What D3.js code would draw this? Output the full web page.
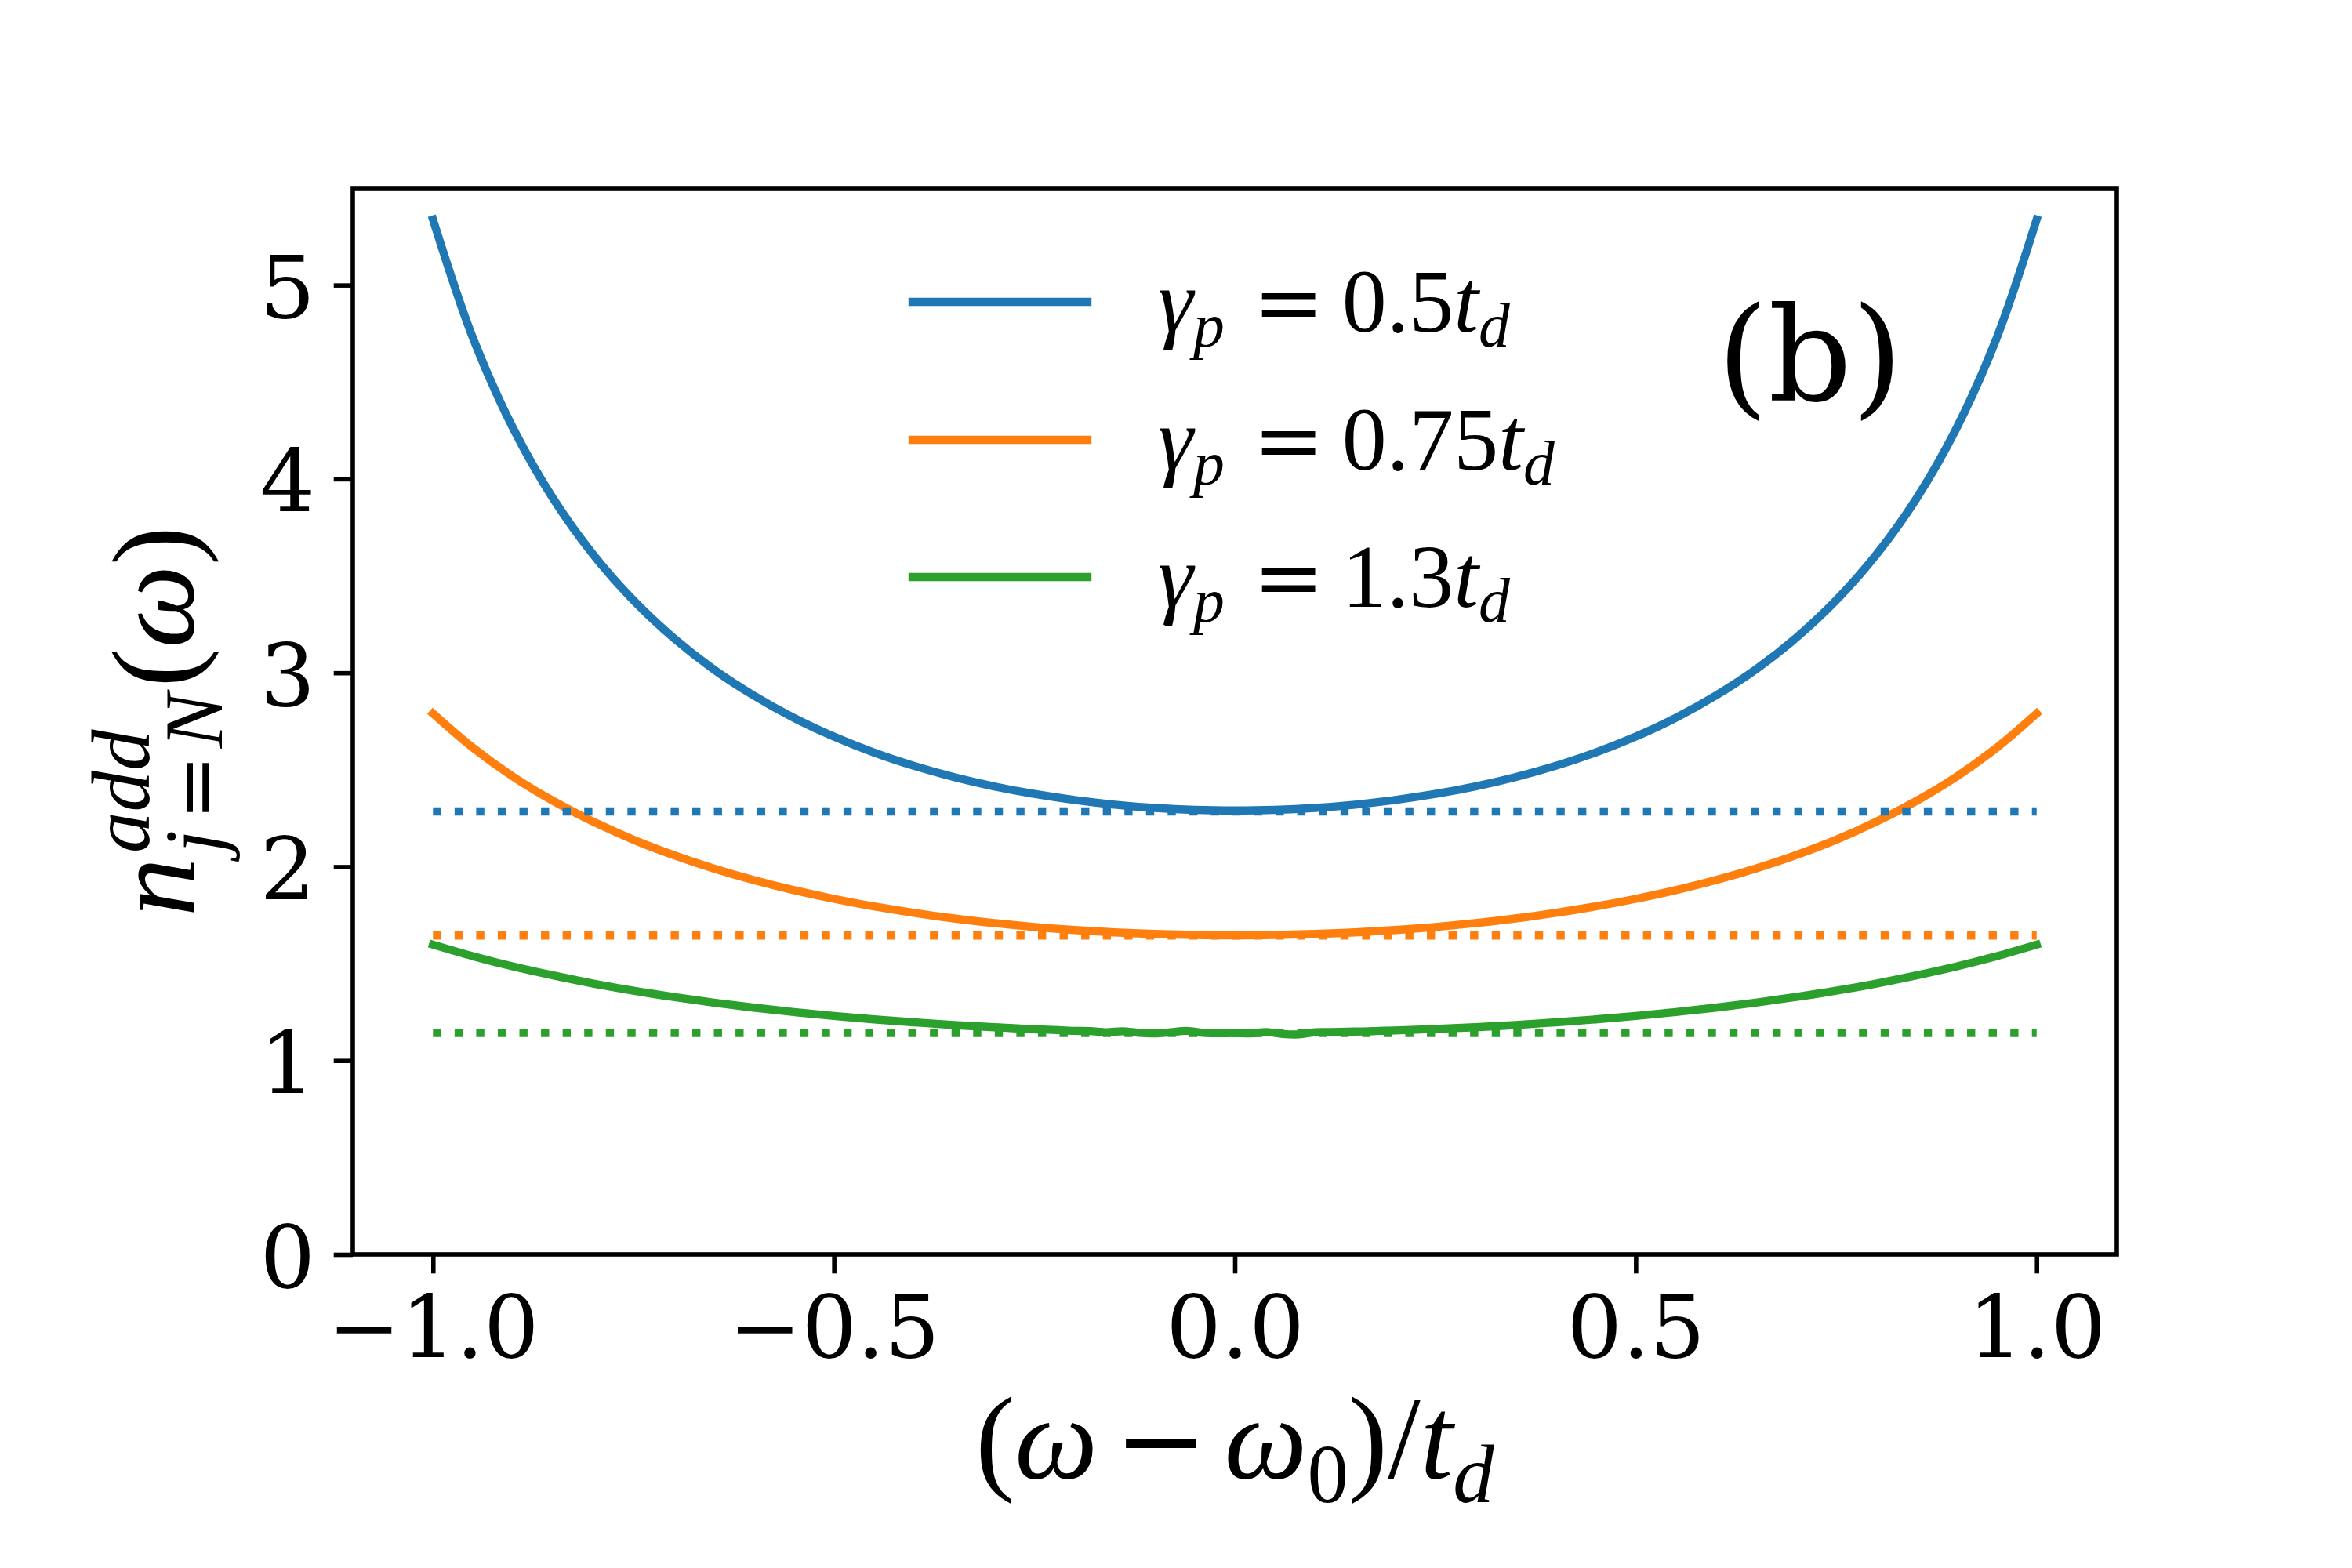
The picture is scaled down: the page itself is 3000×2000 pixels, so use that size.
<!DOCTYPE html>
<html>
<head>
<meta charset="utf-8">
<script src="https://cdn.jsdelivr.net/npm/d3@7"></script>
<style>
  html, body { margin: 0; padding: 0; background: #fff; }
  svg { display: block; }
</style>
</head>
<body>
<svg id="chart" width="3000" height="2000"></svg>
<script>
// ---------------- DATA ----------------
const xTicks = [-1, -0.5, 0, 0.5, 1];
const xTickLabels = ["\u22121.0", "\u22120.5", "0.0", "0.5", "1.0"];
const yTicks = [0, 1, 2, 3, 4, 5];
const yTickLabels = ["0", "1", "2", "3", "4", "5"];

const omega = [-1, -0.95, -0.9, -0.85, -0.8, -0.75, -0.7, -0.65, -0.6, -0.55, -0.5,
  -0.45, -0.4, -0.35, -0.3, -0.25, -0.2, -0.15, -0.1, -0.05, 0,
  0.05, 0.1, 0.15, 0.2, 0.25, 0.3, 0.35, 0.4, 0.45, 0.5,
  0.55, 0.6, 0.65, 0.7, 0.75, 0.8, 0.85, 0.9, 0.95, 1];

const nBlue = [5.338, 4.725, 4.261, 3.898, 3.609, 3.374, 3.180, 3.018, 2.883, 2.768, 2.671,
  2.589, 2.520, 2.462, 2.414, 2.375, 2.344, 2.320, 2.303, 2.293, 2.290,
  2.293, 2.303, 2.320, 2.344, 2.375, 2.414, 2.462, 2.520, 2.589, 2.671,
  2.768, 2.883, 3.018, 3.180, 3.374, 3.609, 3.898, 4.261, 4.725, 5.338];

const nOrange = [2.790, 2.613, 2.464, 2.339, 2.232, 2.139, 2.060, 1.991, 1.931, 1.879, 1.834,
  1.795, 1.762, 1.733, 1.709, 1.689, 1.673, 1.661, 1.653, 1.648, 1.646,
  1.648, 1.653, 1.661, 1.673, 1.689, 1.709, 1.733, 1.762, 1.795, 1.834,
  1.879, 1.931, 1.991, 2.060, 2.139, 2.232, 2.339, 2.464, 2.613, 2.790];

const omegaGreen = [-1, -0.95, -0.9, -0.85, -0.8, -0.75, -0.7, -0.65, -0.6, -0.55, -0.5, -0.45, -0.4, -0.35,
  -0.30, -0.28, -0.26, -0.24, -0.22, -0.20, -0.18, -0.16, -0.14, -0.12, -0.10, -0.08, -0.06,
  -0.04, -0.02, 0.00, 0.02, 0.04, 0.06, 0.08, 0.10, 0.12, 0.14, 0.16, 0.18, 0.20,
  0.25, 0.3, 0.35, 0.4, 0.45, 0.5, 0.55, 0.6, 0.65, 0.7, 0.75, 0.8, 0.85, 0.9, 0.95, 1];

const nGreen = [1.598, 1.538, 1.485, 1.439, 1.397, 1.360, 1.328, 1.299, 1.273, 1.250, 1.230, 1.212, 1.197, 1.183,
  1.172, 1.168, 1.163, 1.160, 1.157, 1.153, 1.152, 1.146, 1.151, 1.143, 1.140, 1.146, 1.153,
  1.143, 1.141, 1.142, 1.140, 1.147, 1.137, 1.135, 1.146, 1.147, 1.149, 1.150, 1.153, 1.155,
  1.163, 1.172, 1.183, 1.197, 1.212, 1.230, 1.250, 1.273, 1.299, 1.328, 1.360, 1.397, 1.439, 1.485, 1.538, 1.598];

const refOmega = [-1, 1];
const refLevels = [2.285, 1.645, 1.142];

const gammaValues = ["0.5", "0.75", "1.3"];
const colors = ["#1f77b4", "#ff7f0e", "#2ca02c"];
const panelLabel = "(b)";

// ---------------- LAYOUT ----------------
const W = 3000, H = 2000;
const L = 450, R = 2700, T = 240, B = 1600;
const TICK_FONT = "'DejaVu Serif', serif";
const MATH_FONT = "'Liberation Serif', 'Times New Roman', serif";
const OP_FONT = "'DejaVu Serif', serif";
const tickSize = 111;
const lw = 10.4;

const svg = d3.select("#chart");
svg.append("rect").attr("width", W).attr("height", H).attr("fill", "#fff");

const x = d3.scaleLinear().domain([-1.1, 1.1]).range([L, R]);
const y = d3.scaleLinear().domain([0, 5.5]).range([B, T]);

const series = [
  { xs: omega, ys: nBlue },
  { xs: omega, ys: nOrange },
  { xs: omegaGreen, ys: nGreen }
];

const plot = svg.append("g");
const line = d3.line().x(d => x(d[0])).y(d => y(d[1])).curve(d3.curveCatmullRom.alpha(0.5));

series.forEach((s, i) => {
  plot.append("path")
    .datum(s.xs.map((v, k) => [v, s.ys[k]]))
    .attr("d", line)
    .attr("fill", "none")
    .attr("stroke", colors[i])
    .attr("stroke-width", lw)
    .attr("stroke-linecap", "square")
    .attr("stroke-linejoin", "round");
});

refLevels.forEach((lvl, i) => {
  plot.append("path")
    .datum(refOmega.map(v => [v, lvl]))
    .attr("d", d3.line().x(d => x(d[0])).y(d => y(d[1])))
    .attr("fill", "none")
    .attr("stroke", colors[i])
    .attr("stroke-width", lw)
    .attr("stroke-linecap", "butt")
    .attr("stroke-dasharray", `${lw},${lw * 1.65}`);
});

// ---------------- AXES ----------------
const spineW = 5.6, tickLen = 24.3;
const xAxis = d3.axisBottom(x).tickValues(xTicks).tickSize(tickLen).tickSizeOuter(0)
  .tickPadding(24).tickFormat((d, i) => xTickLabels[i]);
const yAxis = d3.axisLeft(y).tickValues(yTicks).tickSize(tickLen).tickSizeOuter(0)
  .tickPadding(24).tickFormat((d, i) => yTickLabels[i]);

const gx = svg.append("g").attr("transform", `translate(0,${B})`).call(xAxis);
const gy = svg.append("g").attr("transform", `translate(${L},0)`).call(yAxis);
[gx, gy].forEach(g => {
  g.select(".domain").remove();
  g.selectAll(".tick line").attr("stroke", "#000").attr("stroke-width", spineW);
  g.selectAll(".tick text").attr("font-family", TICK_FONT).attr("font-size", tickSize).attr("fill", "#000");
});
gx.selectAll(".tick text").attr("dy", null).attr("y", 131);
gy.selectAll(".tick text").attr("dy", null).attr("y", 41).attr("x", -48);

svg.append("rect").attr("x", L).attr("y", T).attr("width", R - L).attr("height", B - T)
  .attr("fill", "none").attr("stroke", "#000").attr("stroke-width", spineW)
  .attr("stroke-linejoin", "miter");

// ---------------- MATH TEXT HELPER ----------------
function mathText(parent, parts, o) {
  const fs = o.size;
  const g = parent.append("g").attr("font-family", MATH_FONT).attr("fill", "#000");
  const inner = g.append("g");
  function put(p, xx) {
    const s = (p.sub || p.sup) ? 0.7 : 1;
    const dy = p.sub ? o.subDy : p.sup ? -o.supDy : 0;
    const t = inner.append("text")
      .attr("x", xx + (p.l || 0) * fs * s)
      .attr("y", dy * fs)
      .attr("font-size", fs * s * (p.scale || 1))
      .attr("font-style", p.it ? "italic" : "normal")
      .text(p.t);
    if (p.font) t.attr("font-family", p.font);
    return ((p.l || 0) + (p.r || 0)) * fs * s + t.node().getComputedTextLength();
  }
  function putSeq(seq, xx) {
    let w = 0;
    seq.forEach(p => { w += put(p, xx + w); });
    return w;
  }
  let cx = 0;
  parts.forEach(p => {
    if (p.stack) {
      let w = 0;
      p.stack.forEach(seq => { w = Math.max(w, putSeq(seq, cx)); });
      cx += w;
    } else cx += put(p, cx);
  });
  const off = o.anchor === "middle" ? -cx / 2 : o.anchor === "end" ? -cx : 0;
  inner.attr("transform", `translate(${off},0)`);
  g.attr("transform", `translate(${o.x},${o.y})` + (o.rotate ? ` rotate(${o.rotate})` : ""));
  return g;
}

// ---------------- LEGEND ----------------
const legendY = [385, 561, 736];
const legendSize = 114;
gammaValues.forEach((gv, i) => {
  svg.append("line")
    .attr("x1", 1164).attr("x2", 1387)
    .attr("y1", legendY[i]).attr("y2", legendY[i])
    .attr("stroke", colors[i]).attr("stroke-width", lw).attr("stroke-linecap", "square");
  mathText(svg, [
    { t: "\u03b3", it: true },
    { t: "p", it: true, sub: true },
    { t: "=", l: 0.32, r: 0.2, font: OP_FONT, scale: 0.95 },
    { t: gv },
    { t: "t", it: true },
    { t: "d", it: true, sub: true }
  ], { x: 1477, y: legendY[i] + 38, size: legendSize, subDy: 0.17, supDy: 0.3, anchor: "start" });
});

// ---------------- PANEL LABEL ----------------
svg.append("text").attr("x", 2190).attr("y", 511)
  .attr("font-family", TICK_FONT).attr("font-size", 167).attr("fill", "#000")
  .text(panelLabel);

// ---------------- AXIS LABELS ----------------
mathText(svg, [
  { t: "(" },
  { t: "\u03c9", it: true },
  { t: "\u2212", l: 0.14, r: 0.14, font: OP_FONT, scale: 0.95 },
  { t: "\u03c9", it: true },
  { t: "0", sub: true },
  { t: ")" },
  { t: "/" },
  { t: "t", it: true },
  { t: "d", it: true, sub: true }
], { x: (L + R) / 2, y: 1886, size: 150, subDy: 0.2, supDy: 0.3, anchor: "middle" });

mathText(svg, [
  { t: "n", it: true, r: 0.04 },
  { stack: [
      [ { t: "add", it: true, sup: true } ],
      [ { t: "j", it: true, sub: true }, { t: "=", l: 0.12, r: 0.08, sub: true, font: OP_FONT, scale: 0.95 }, { t: "N", it: true, sub: true } ]
  ] },
  { t: "(", l: 0.05 },
  { t: "\u03c9", it: true },
  { t: ")" }
], { x: 247, y: (T + B) / 2, size: 150, subDy: 0.24, supDy: 0.38, anchor: "middle", rotate: -90 });
</script>
</body>
</html>
